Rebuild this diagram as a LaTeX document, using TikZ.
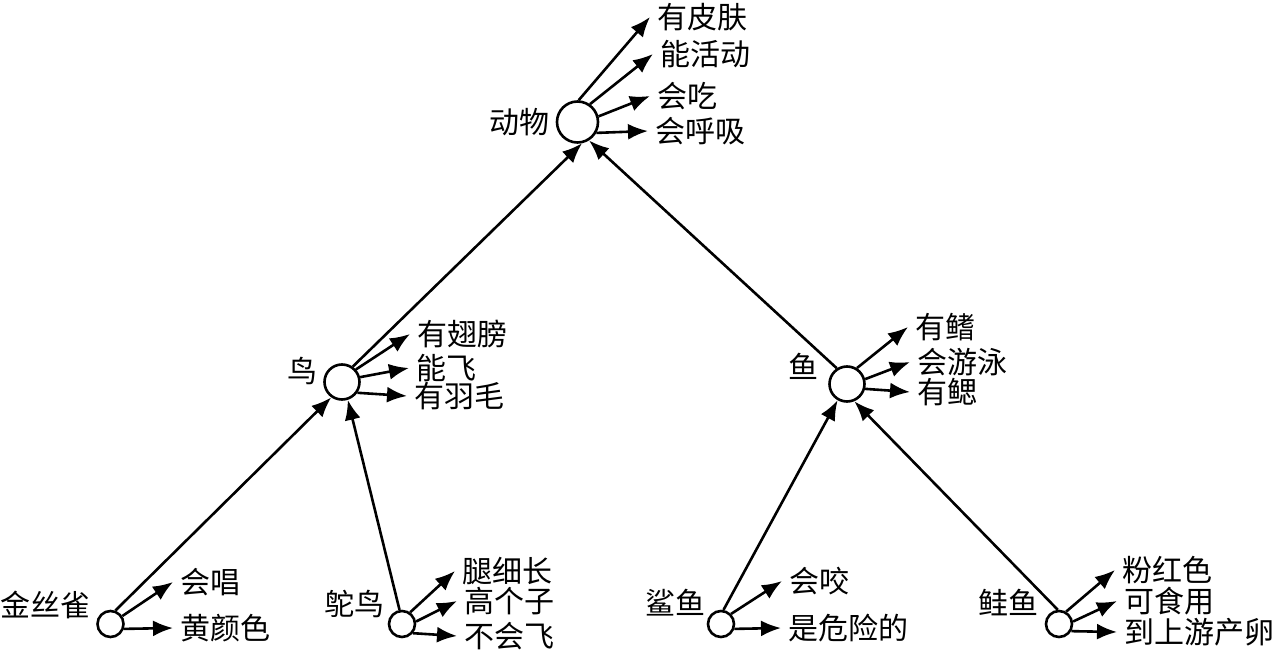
\documentclass[tikz,border=0pt]{standalone}
\usepackage{fontspec}
\setmainfont{Noto Sans CJK SC}
\usetikzlibrary{arrows.meta}
\tikzset{
  dot/.style={circle, draw, line width=1.3pt, inner sep=0pt},
  bigdot/.style={dot, minimum size=20.5pt},
  middot/.style={dot, minimum size=17.5pt},
  smalldot/.style={dot, minimum size=13pt},
  prop/.style={anchor=west, inner xsep=3.5pt, inner ysep=0pt, font=\fontsize{15pt}{15pt}\selectfont},
  lbl/.style={anchor=east, inner sep=0pt, font=\fontsize{15pt}{15pt}\selectfont},
  arr/.style={line width=1.3pt, -{Latex[length=10pt,width=8pt]}}
}
\begin{document}
\begin{tikzpicture}[x=0.5pt,y=-0.5pt]
\useasboundingbox (0,0) rectangle (1276,653);
% circles
\node[bigdot] (animal) at (577.5,122) {};
\node[middot] (bird) at (342,382) {};
\node[middot] (fish) at (847,384) {};
\node[smalldot] (canary) at (110.5,624) {};
\node[smalldot] (ostrich) at (402,624) {};
\node[smalldot] (shark) at (721,624) {};
\node[smalldot] (salmon) at (1059,624) {};
% names
\node[lbl] (nanimal) at (550,122) {动物};
\node[lbl] (nbird) at (318,371) {鸟};
\node[lbl] (nfish) at (819,366) {鱼};
\node[lbl] (ncanary) at (91,605) {金丝雀};
\node[lbl] (nostrich) at (385,604) {鸵鸟};
\node[lbl] (nshark) at (706,603) {鲨鱼};
\node[lbl] (nsalmon) at (1039,603) {鲑鱼};
% properties
\node[prop] (a1) at (650,17) {有皮肤};
\node[prop] (a2) at (653,54) {能活动};
\node[prop] (a3) at (650,96) {会吃};
\node[prop] (a4) at (648,131) {会呼吸};
\node[prop] (b1) at (410,334) {有翅膀};
\node[prop] (b2) at (409,368) {能飞};
\node[prop] (b3) at (407,396) {有羽毛};
\node[prop] (f1) at (908,327) {有鳍};
\node[prop] (f2) at (910,362) {会游泳};
\node[prop] (f3) at (910,392) {有鳃};
\node[prop] (c1) at (173,582) {会唱};
\node[prop] (c2) at (173,628) {黄颜色};
\node[prop] (o1) at (455,571) {腿细长};
\node[prop] (o2) at (457,601) {高个子};
\node[prop] (o3) at (457,636) {不会飞};
\node[prop] (s1) at (782,581) {会咬};
\node[prop] (s2) at (781,628) {是危险的};
\node[prop] (l1) at (1115,570) {粉红色};
\node[prop] (l2) at (1117,601) {可食用};
\node[prop] (l3) at (1117,632) {到上游产卵};
% property arrows
\draw[arr] (animal.87) -- (a1.west);
\draw[arr] (animal.55) -- (a2.west);
\draw[arr] (animal.15) -- (a3.west);
\draw[arr] (animal.-30) -- (a4.west);
\draw[arr] (bird.42) -- (b1.west);
\draw[arr] (bird.15) -- (b2.west);
\draw[arr] (bird.-35) -- (b3.west);
\draw[arr] (fish.58) -- (f1.west);
\draw[arr] (fish.15) -- (f2.west);
\draw[arr] (fish.-15) -- (f3.west);
\draw[arr] (canary.34) -- (c1.west);
\draw[arr] (canary.-20) -- (c2.west);
\draw[arr] (ostrich.55) -- (o1.west);
\draw[arr] (ostrich.10) -- (o2.west);
\draw[arr] (ostrich.-40) -- (o3.west);
\draw[arr] (shark.45) -- (s1.west);
\draw[arr] (shark.-20) -- (s2.west);
\draw[arr] (salmon.60) -- (l1.west);
\draw[arr] (salmon.10) -- (l2.west);
\draw[arr] (salmon.-30) -- (l3.west);
% hierarchy arrows
\draw[arr] (bird.55) -- (animal.-78);
\draw[arr] (fish.123) -- (animal.-58);
\draw[arr] (canary.70) -- (bird.235);
\draw[arr] (ostrich.100) -- (bird.-72);
\draw[arr] (shark.80) -- (fish.-120);
\draw[arr] (salmon.95) -- (fish.-67);
\end{tikzpicture}
\end{document}
